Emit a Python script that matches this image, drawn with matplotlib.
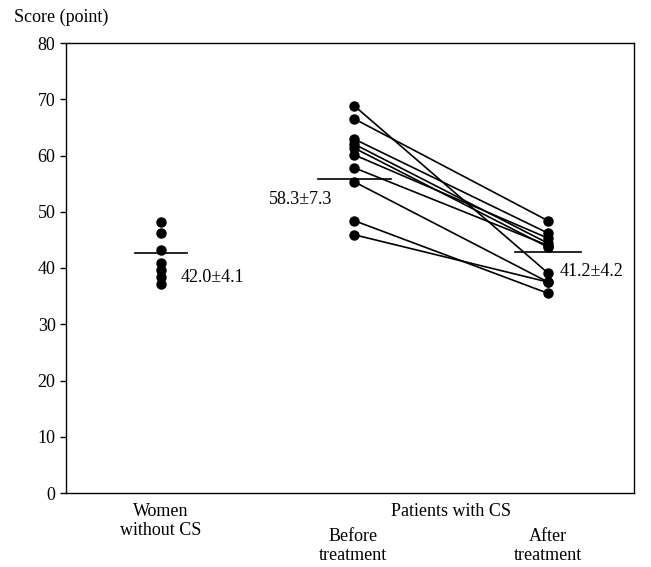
import matplotlib
matplotlib.use("Agg")
import matplotlib.pyplot as plt

# scores
women = [48.2, 46.2, 43.2, 40.9, 39.6, 38.4, 37.2]
before = [68.8, 66.5, 62.9, 62.0, 61.3, 60.1, 57.8, 55.3, 48.4, 45.9]
after = [39.1, 48.4, 46.2, 44.4, 43.7, 45.3, 44.0, 37.5, 35.5, 37.5]

# horizontal mean marks as drawn, and their labels
mean_marks = [42.7, 55.8, 42.8]
mean_labels = ["42.0\u00b14.1", "58.3\u00b17.3", "41.2\u00b14.2"]

plt.rcParams["font.family"] = ["Liberation Serif", "DejaVu Serif"]
plt.rcParams["font.size"] = 13

fig = plt.figure(figsize=(6.51, 5.67), dpi=100)
ax = fig.add_axes([66 / 651, 1 - 493 / 567, 568 / 651, 450 / 567])

xw, xb, xa = 1.0, 2.0, 3.0

for b, a in zip(before, after):
    ax.plot([xb, xa], [b, a], color="black", lw=1.2)
ax.plot([xw] * len(women), women, "o", color="black", ms=6.5)
ax.plot([xb] * len(before), before, "o", color="black", ms=6.5)
ax.plot([xa] * len(after), after, "o", color="black", ms=6.5)

half = [0.135, 0.19, 0.17]
for x, m, h in zip([xw, xb, xa], mean_marks, half):
    ax.plot([x - h, x + h], [m, m], color="black", lw=1.2)

ax.text(xw + 0.1, 38.3, mean_labels[0], ha="left", va="center")
ax.text(xb - 0.445, 52.2, mean_labels[1], ha="left", va="center")
ax.text(xa + 0.06, 39.3, mean_labels[2], ha="left", va="center")

ax.set_xlim(1 - 95 / 193.5, 3 + 86 / 193.5)
ax.set_ylim(0, 80)
ax.set_yticks(range(0, 81, 10))
ax.set_xticks([])
ax.tick_params(axis="y", direction="out", length=4, width=1)
for s in ax.spines.values():
    s.set_linewidth(1.0)

fig.text(14 / 651, 1 - 17 / 567, "Score (point)", ha="left", va="center")
fig.text(161 / 651, 1 - 521 / 567, "Women\nwithout CS", ha="center", va="center",
         linespacing=1.15)
fig.text(451 / 651, 1 - 512 / 567, "Patients with CS", ha="center", va="center")
fig.text(353 / 651, 1 - 546 / 567, "Before\ntreatment", ha="center", va="center",
         linespacing=1.15)
fig.text(548 / 651, 1 - 546 / 567, "After\ntreatment", ha="center", va="center",
         linespacing=1.15)

fig.savefig("out.png", dpi=100)
